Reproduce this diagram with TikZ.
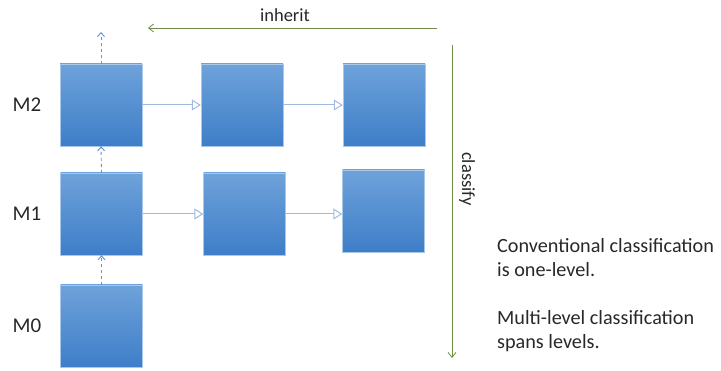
\documentclass[tikz,border=0pt]{standalone}
\usepackage{fontspec}
\setmainfont{Carlito}
\usetikzlibrary{arrows.meta, positioning, shapes}
\definecolor{boxtop}{RGB}{110, 162, 218}
\definecolor{boxbot}{RGB}{62, 126, 200}
\definecolor{linkblue}{RGB}{160, 186, 222}
\definecolor{metablue}{RGB}{100, 146, 210}
\definecolor{axisgreen}{RGB}{110, 140, 70}
\definecolor{ink}{RGB}{40, 40, 40}

\begin{document}
\begin{tikzpicture}[x=1pt, y=-1pt,
    level/.style={rectangle, minimum width=82pt, minimum height=82pt, inner sep=0pt,
        top color=boxtop, bottom color=boxbot, draw=boxtop!60!white, line width=0.4pt},
    instof/.style={-{Triangle[open, length=9pt, width=11pt]}, linkblue, line width=1pt},
    meta/.style={-{Straight Barb[length=4pt, width=7pt]}, metablue, dashed, line width=0.9pt},
    axis/.style={-{Straight Barb[length=5pt, width=8pt]}, axisgreen, line width=0.8pt},
    every node/.style={text=ink},
    lvl/.style={font=\fontsize{21}{25}\selectfont},
    dir/.style={font=\fontsize{18.5}{22}\selectfont},
    note/.style={anchor=base west, align=left, inner sep=0pt, font=\fontsize{20.2}{24}\selectfont}]
\useasboundingbox (0,0) rectangle (721,371);

% Levels of boxes
\node[level] (m2a) at (101,105) {};
\node[level] (m2b) at (242,105) {};
\node[level] (m2c) at (384,105) {};
\node[level] (m1a) at (101.5,214) {};
\node[level] (m1b) at (244.5,214) {};
\node[level] (m1c) at (383.5,211) {};
\node[level] (m0a) at (101.5,326) {};

% Level labels
\node[lvl] (l2) at (27,105) {M2};
\node[lvl] (l1) at (27,214) {M1};
\node[lvl] (l0) at (27,326) {M0};

% Instances along each level
\draw[instof] (m2a.east) -- (m2b.west);
\draw[instof] (m2b.east) -- (m2c.west);
\draw[instof] (m1a.east |- 0,214) -- (m1b.west);
\draw[instof] (m1b.east) -- (m1c.west |- 0,214);

% Going up a level
\coordinate (top) at (101,32);
\draw[meta] (m2a.north) -- (top);
\draw[meta] (m1a.north) -- (m2a.south);
\draw[meta] (m0a.north) -- (m1a.south);

% Inherit and classify directions
\coordinate (inhS) at (437,28);
\coordinate (inhE) at (148,28);
\draw[axis] (inhS) -- (inhE);
\node[dir] (inh) at (285,15) {inherit};

\coordinate (clsS) at (452,45);
\coordinate (clsE) at (452,358);
\draw[axis] (clsS) -- (clsE);
\node[dir, rotate=-90] (cls) at (467,179) {classify};

% Notes (base is the last line)
\node[note] (note1) at (497,277) {Conventional classification\\is one-level.};
\node[note] (note2) at (497,349) {Multi-level classification\\spans levels.};
\end{tikzpicture}
\end{document}
